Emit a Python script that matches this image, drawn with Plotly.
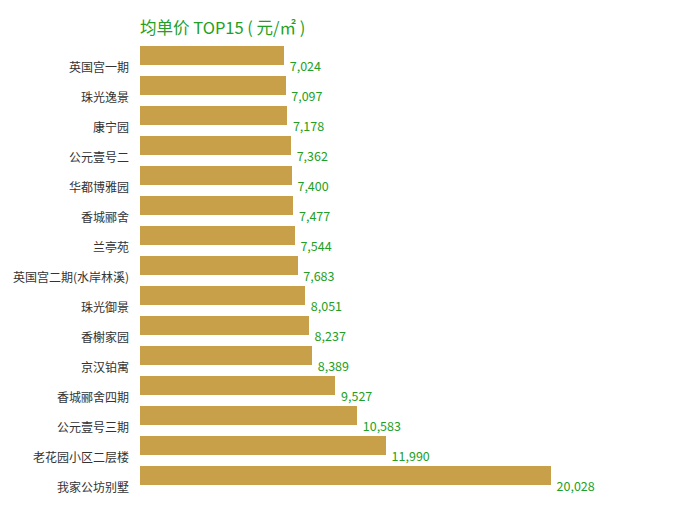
import plotly.graph_objects as go

categories = ["英国宫一期", "珠光逸景", "康宁园", "公元壹号二", "华都博雅园", "香城郦舍", "兰亭苑",
              "英国宫二期(水岸林溪)", "珠光御景", "香榭家园", "京汉铂寓", "香城郦舍四期",
              "公元壹号三期", "老花园小区二层楼", "我家公坊别墅"]
values = [7024, 7097, 7178, 7362, 7400, 7477, 7544, 7683, 8051, 8237, 8389, 9527, 10583, 11990, 20028]
labels = [f"  {v:,}" for v in values]

FONT = "Noto Sans CJK SC"
GREEN = "#23a023"
BAR = "#c9a04a"

fig = go.Figure()
fig.add_trace(go.Bar(
    x=values, y=categories, orientation="h",
    marker=dict(color=BAR, line=dict(width=0)),
    width=0.63, offset=-0.73,
    hoverinfo="x+y",
))
fig.add_trace(go.Scatter(
    x=values, y=categories, mode="text", text=labels,
    textposition="middle right",
    textfont=dict(family=FONT, size=12.5, color=GREEN),
    hoverinfo="skip",
))
fig.update_layout(
    width=680, height=520,
    margin=dict(l=132, r=35, t=30, b=25),
    paper_bgcolor="white", plot_bgcolor="white",
    showlegend=False,
    bargap=0,
    title=dict(text="均单价 TOP15 ( 元/㎡ )", x=132/680, xanchor="left",
               y=1 - 20/520, yanchor="middle",
               font=dict(family=FONT, size=16.5, color=GREEN)),
    xaxis=dict(range=[0, 25000], visible=False, showgrid=False, zeroline=False,
               automargin=False),
    yaxis=dict(type="category", categoryorder="array", categoryarray=categories,
               range=[14.5, -1.0], showgrid=False, zeroline=False, showline=False,
               ticks="", ticklabelstandoff=10, automargin=False,
               tickfont=dict(family=FONT, size=12, color="#333333")),
)
fig.write_html("out.html")
